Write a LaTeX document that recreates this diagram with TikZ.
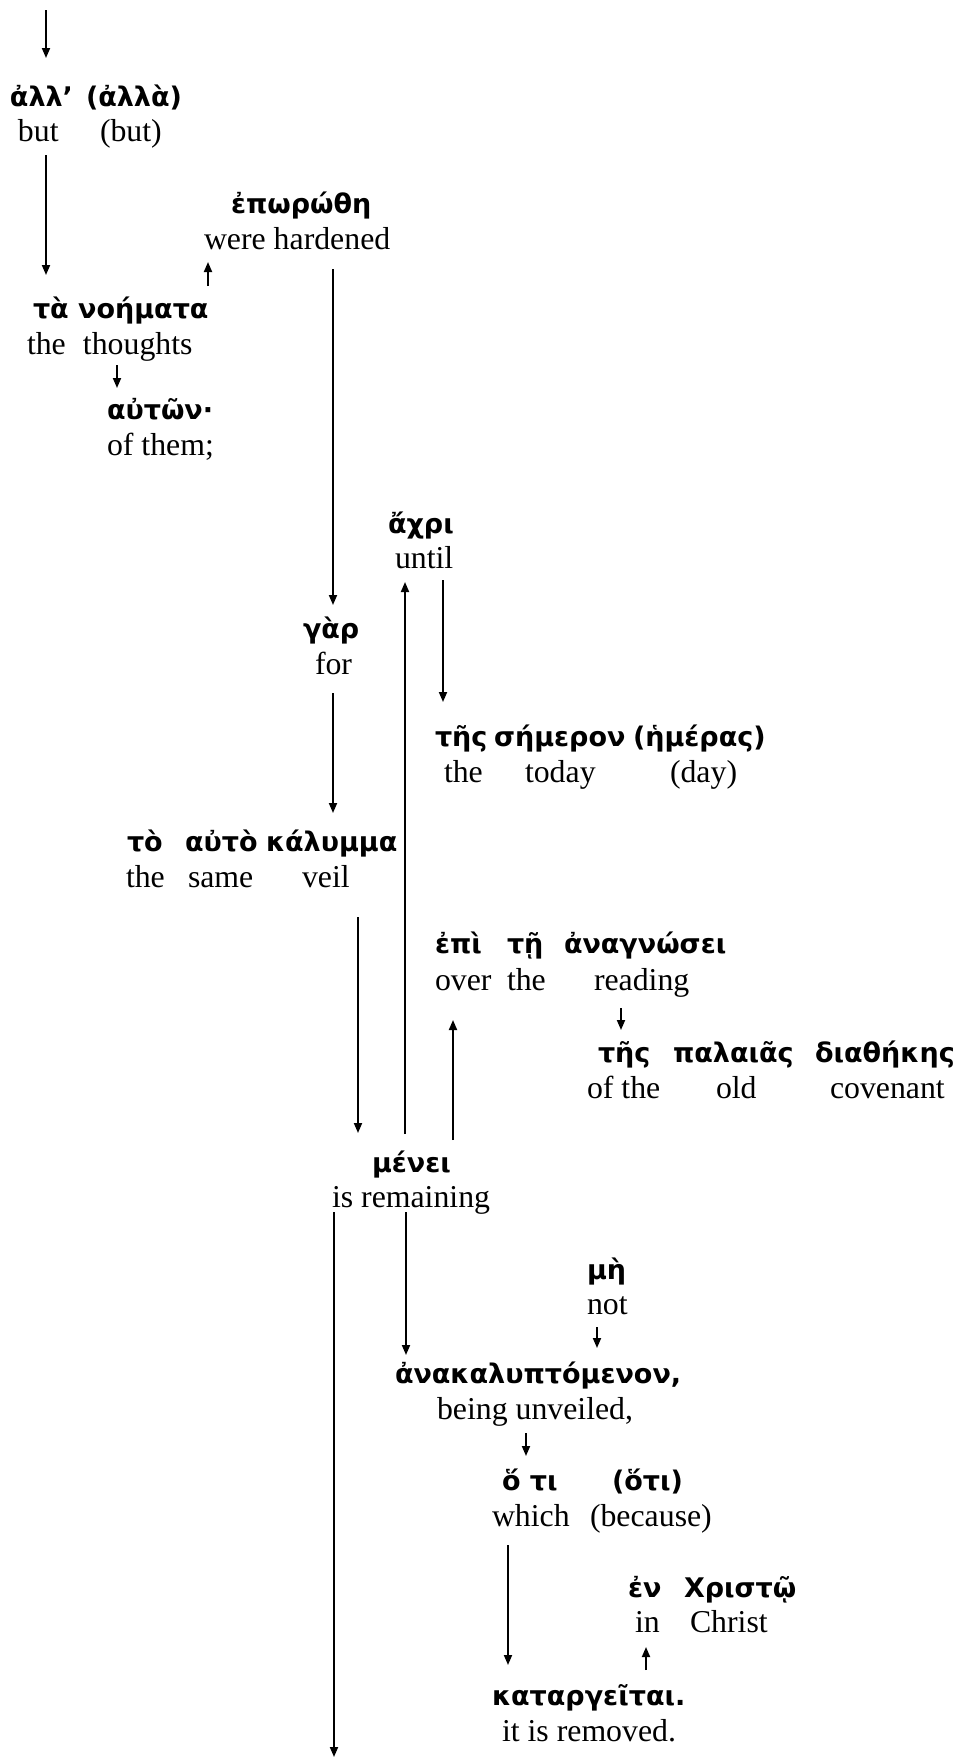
\documentclass[tikz,border=0pt]{standalone}
\usepackage{fontspec}
\setmainfont{Liberation Serif}
\newfontfamily\grk{DejaVu Sans}
\usetikzlibrary{arrows.meta,calc}

\tikzset{
  gw/.style={anchor=base west, inner sep=0pt, outer sep=0pt,
             font=\grk\bfseries\fontsize{13.5}{16}\selectfont},
  ew/.style={anchor=base west, inner sep=0pt, outer sep=0pt,
             font=\fontsize{15.9}{19}\selectfont},
  arr/.style={line width=0.9pt, -{Triangle[length=5pt,width=4pt]}}
}

\begin{document}
\begin{tikzpicture}[x=0.5pt, y=-0.5pt]
\useasboundingbox (0,0) rectangle (960,1758);

% ---- words: Greek line above, English gloss below ----
\node[gw] (g-all)   at (10,106)  {ἀλλ’};
\node[gw] (g-alla)  at (86,106)  {(ἀλλὰ)};
\node[ew] (e-but)   at (18,141)  {but};
\node[ew] (e-but2)  at (100,141) {(but)};

\node[gw] (g-eporothe) at (231,213) {ἐπωρώθη};
\node[ew] (e-hardened) at (204,249) {were hardened};

\node[gw] (g-noimata)  at (33,318)  {τὰ νοήματα};
\node[ew] (e-the1)     at (27,354)  {the};
\node[ew] (e-thoughts) at (83,354)  {thoughts};

\node[gw] (g-auton)  at (107,419) {αὐτῶν·};
\node[ew] (e-ofthem) at (107,455) {of them;};

\node[gw] (g-achri) at (388,533) {ἄχρι};
\node[ew] (e-until) at (395,568) {until};

\node[gw] (g-gar) at (303,638) {γὰρ};
\node[ew] (e-for) at (315,674) {for};

\node[gw] (g-tes1)    at (435,746) {τῆς};
\node[gw] (g-semeron) at (494,746) {σήμερον};
\node[gw] (g-hemeras) at (633,746) {(ἡμέρας)};
\node[ew] (e-the2)    at (444,782) {the};
\node[ew] (e-today)   at (525,782) {today};
\node[ew] (e-day)     at (670,782) {(day)};

\node[gw] (g-to)      at (127,851) {τὸ};
\node[gw] (g-auto)    at (185,851) {αὐτὸ};
\node[gw] (g-kalymma) at (266,851) {κάλυμμα};
\node[ew] (e-the3)    at (126,887) {the};
\node[ew] (e-same)    at (188,887) {same};
\node[ew] (e-veil)    at (302,887) {veil};

\node[gw] (g-epi)       at (435,953) {ἐπὶ};
\node[gw] (g-te)        at (507,953) {τῇ};
\node[gw] (g-anagnosei) at (564,953) {ἀναγνώσει};
\node[ew] (e-over)      at (435,990) {over};
\node[ew] (e-the4)      at (507,990) {the};
\node[ew] (e-reading)   at (594,990) {reading};

\node[gw] (g-tes2)      at (598,1062) {τῆς};
\node[gw] (g-palaias)   at (673,1062) {παλαιᾶς};
\node[gw] (g-diathekes) at (815,1062) {διαθήκης};
\node[ew] (e-ofthe)     at (587,1098) {of the};
\node[ew] (e-old)       at (716,1098) {old};
\node[ew] (e-covenant)  at (830,1098) {covenant};

\node[gw] (g-menei)     at (372,1172) {μένει};
\node[ew] (e-remaining) at (332,1207) {is remaining};

\node[gw] (g-me)  at (587,1279) {μὴ};
\node[ew] (e-not) at (587,1314) {not};

\node[gw] (g-anakal)   at (395,1383) {ἀνακαλυπτόμενον,};
\node[ew] (e-unveiled) at (437,1419) {being unveiled,};

\node[gw] (g-hoti)    at (502,1490) {ὅ τι};
\node[gw] (g-hoti2)   at (612,1490) {(ὅτι)};
\node[ew] (e-which)   at (492,1526) {which};
\node[ew] (e-because) at (590,1526) {(because)};

\node[gw] (g-en)      at (628,1597) {ἐν};
\node[gw] (g-christo) at (684,1597) {Χριστῷ};
\node[ew] (e-in)      at (635,1632) {in};
\node[ew] (e-christ)  at (690,1632) {Christ};

\node[gw] (g-katarg)  at (492,1705) {καταργεῖται.};
\node[ew] (e-removed) at (502,1741) {it is removed.};

% ---- free ends of the open connectors ----
\coordinate (top)    at (46,10);
\coordinate (bottom) at (334,1757);

% ---- connectors ----
\draw[arr] (top) -- ($(g-all.base west)+(36,-48)$);
\draw[arr] ($(e-but.base west)+(28,14)$) -- ($(g-noimata.base west)+(13,-43)$);
\draw[arr] ($(g-noimata.base west)+(175,-32)$) -- ($(e-hardened.base west)+(4,13)$);
\draw[arr] ($(e-thoughts.base west)+(34,11)$) -- ($(g-auton.base west)+(10,-31)$);
\draw[arr] ($(e-hardened.base west)+(129,20)$) -- ($(g-gar.base west)+(30,-33)$);
\draw[arr] ($(e-until.base west)+(48,12)$) -- ($(g-tes1.base west)+(8,-44)$);
\draw[arr] ($(g-menei.base west)+(33,-38)$) -- ($(e-until.base west)+(10,14)$);
\draw[arr] ($(e-for.base west)+(18,19)$) -- ($(g-kalymma.base west)+(67,-38)$);
\draw[arr] ($(e-veil.base west)+(56,30)$) -- ($(g-menei.base west)+(-14,-39)$);
\draw[arr] ($(g-menei.base west)+(81,-32)$) -- ($(e-over.base west)+(18,30)$);
\draw[arr] ($(e-reading.base west)+(27,18)$) -- ($(g-tes2.base west)+(23,-32)$);
\draw[arr] ($(e-remaining.base west)+(2,5)$) -- (bottom);
\draw[arr] ($(e-remaining.base west)+(74,5)$) -- ($(g-anakal.base west)+(11,-28)$);
\draw[arr] ($(e-not.base west)+(10,13)$) -- ($(g-anakal.base west)+(202,-35)$);
\draw[arr] ($(e-unveiled.base west)+(89,14)$) -- ($(g-hoti.base west)+(24,-34)$);
\draw[arr] ($(e-which.base west)+(16,19)$) -- ($(g-katarg.base west)+(16,-40)$);
\draw[arr] ($(g-katarg.base west)+(154,-35)$) -- ($(e-in.base west)+(11,15)$);
\end{tikzpicture}
\end{document}
